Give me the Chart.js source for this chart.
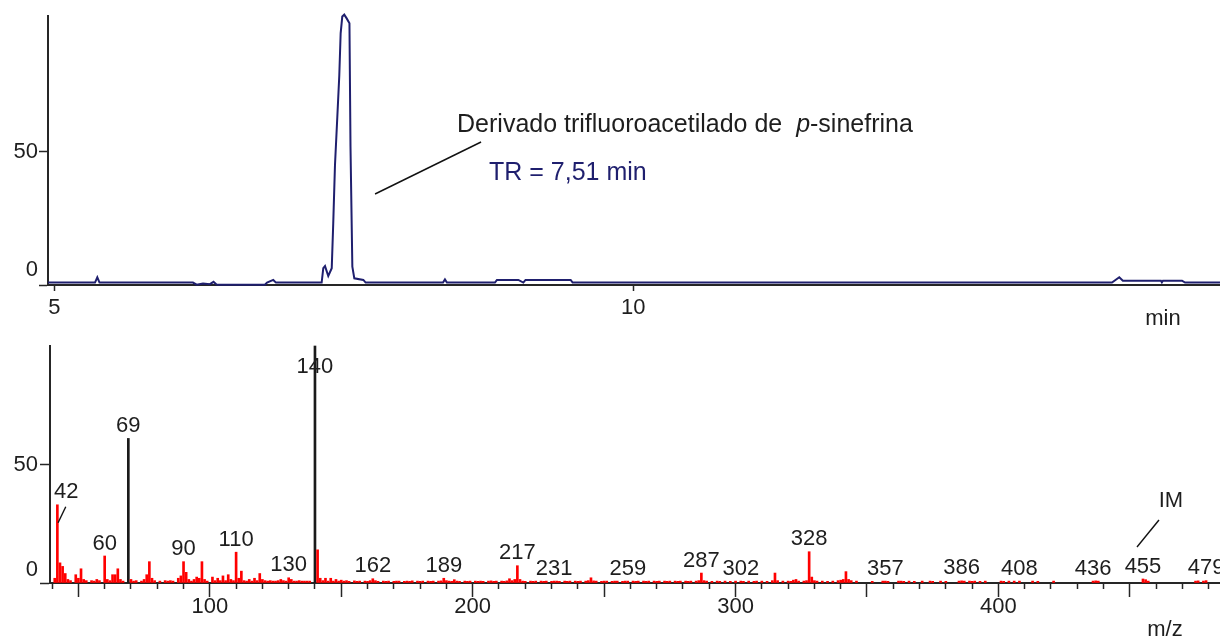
<!DOCTYPE html>
<html lang="es">
<head>
<meta charset="UTF-8">
<title>Cromatograma y espectro de masas - p-sinefrina</title>
<script src="https://cdn.jsdelivr.net/npm/chart.js@4.4.0/dist/chart.umd.min.js"></script>
<style>
  body { margin: 0; background: #fff; }
  #wrap { position: relative; width: 1220px; height: 641px; overflow: hidden; }
  canvas { position: absolute; left: 0; }
  #chromChart { top: 0; }
  #specChart { top: 330px; }
</style>
</head>
<body>
<div id="wrap">
  <canvas id="chromChart" width="1220" height="330"></canvas>
  <canvas id="specChart" width="1220" height="311"></canvas>
</div>
<script>
// chromatogram: time (min) and relative signal (%)
const chromTime = [4.944, 5.350, 5.370, 5.389, 6.196, 6.228, 6.283, 6.343, 6.374, 6.399, 6.421,
  6.818, 6.836, 6.890, 6.913, 7.308, 7.322, 7.337, 7.365, 7.395, 7.408, 7.423, 7.443, 7.460,
  7.472, 7.486, 7.503, 7.524, 7.548, 7.557, 7.573, 7.590, 7.668, 7.688, 8.356, 8.373, 8.390,
  8.805, 8.822, 9.007, 9.050, 9.069, 9.459, 9.476, 14.135, 14.198, 14.229, 14.558, 14.566,
  14.575, 14.740, 14.766, 15.068];
const chromSignal = [0.9, 0.9, 2.9, 0.9, 0.9, 0.1, 0.6, 0.3, 1.2, 0.2, 0.1,
  0.1, 0.9, 1.9, 0.9, 0.9, 6.3, 7.1, 3.4, 6.3, 23.2, 45, 63, 78.5,
  94.5, 100.8, 101.5, 100.1, 98.3, 52, 6.9, 2.5, 1.9, 0.9, 0.9, 2.1, 0.9,
  0.9, 1.9, 1.9, 0.9, 1.9, 1.9, 0.9, 0.9, 2.9, 1.6, 1.6, 1.0,
  1.6, 1.6, 0.9, 0.9];
const chromTicks = [5, 10];
const intensityTicks = [0, 50];
const retentionTime = 7.51;

// mass spectrum: [m/z, relative intensity]
const lowMassPeaks = [[41,2],[42,33],[43,8.5],[44,7],[45,4],[46,1.5],[47,1],[49,3.5],[50,2],[51,6],
  [52,1.5],[53,1],[55,1],[56,0.8],[57,1.5],[58,1],[60,11.4],[61,1.5],[62,1],[63,3.5],[64,3.5],
  [65,6],[66,1.5],[67,0.8],[69,61],[70,1.5],[71,0.8],[72,1],[74,0.8],[75,1.5],[76,3.5],[77,9],
  [78,2],[79,1],[81,0.8],[83,1],[84,0.8],[85,1],[86,0.8],[88,2],[89,3],[90,9],[91,4.5],[92,1.5],
  [93,0.8],[94,1.5],[95,2.5],[96,2],[97,9],[98,1.5],[99,0.8],[101,2.5],[102,1],[103,2],[104,1],
  [105,3],[106,1],[107,3.5],[108,1.5],[109,1],[110,13],[111,2],[112,5],[113,1],[114,0.8],
  [115,1.5],[116,0.8],[117,2],[118,1],[119,4],[120,1.5],[121,1],[122,0.8],[123,1],[124,0.8],
  [125,0.8],[126,1],[127,1.5],[128,1],[129,0.8],[130,2.2],[131,1.5],[132,0.8],[133,0.8],[134,1],
  [135,0.8],[136,0.8],[137,0.8],[138,0.8],[140,100],[141,14],[142,2],[143,1],[144,2],[145,0.8],
  [146,2],[147,0.8],[148,1.5],[149,0.8]];
const midMassPeaks = [[150,1.2],[151,0.8],[152,1],[153,0.7],[155,0.9],[156,0.7],[157,0.8],[159,0.8],
  [160,0.7],[161,1],[162,1.8],[163,1],[164,0.7],[166,0.8],[167,0.7],[168,0.8],[170,0.7],[171,0.8],
  [172,0.8],[174,0.7],[175,0.8],[176,0.7],[177,0.9],[179,0.8],[180,0.7],[181,0.8],[183,0.8],
  [184,0.7],[185,0.8],[187,0.8],[188,0.9],[189,2],[190,1],[191,0.8],[192,0.7],[193,1.4],[194,0.8],
  [195,0.7],[197,0.8],[198,0.7],[199,0.8],[201,0.8],[202,0.7],[203,0.8],[204,0.7],[206,0.8],
  [207,0.9],[208,0.7],[209,0.8],[211,0.8],[212,0.7],[213,0.9],[214,1.8],[215,1],[216,1.5],
  [217,7.3],[218,1.5],[219,0.8],[220,0.7],[222,0.8],[223,0.7],[224,0.8],[226,0.8],[227,0.7],
  [228,0.8],[230,0.7],[231,0.8],[232,0.8],[233,0.7],[235,0.8],[236,0.7],[237,0.8],[239,0.8],
  [240,0.7],[241,0.8],[243,0.8],[244,1],[245,2.2],[246,0.9],[247,0.8],[249,0.7],[250,0.8],
  [251,0.8],[253,0.7],[254,0.8],[255,0.8],[257,0.7],[258,0.8],[259,0.8],[261,0.8],[262,0.7],
  [263,0.8],[265,0.8],[266,0.7],[267,0.8],[269,0.8],[270,0.7],[271,0.8],[273,0.8],[274,0.7],
  [275,0.8],[277,0.8],[278,0.7],[279,0.8],[281,0.8],[282,0.7],[283,0.8],[285,0.8],[286,1],
  [287,4.2],[288,1],[289,0.8],[291,0.7],[293,0.8],[294,0.7],[296,0.8],[298,0.7],[300,0.8],
  [302,0.8],[303,0.7],[305,0.8],[307,0.7],[308,0.8],[310,0.8],[312,0.7],[314,1],[315,4.2],
  [316,1],[318,0.8],[320,0.8],[321,0.7],[322,1.2],[323,1.5],[324,0.8],[326,0.8],[327,1],
  [328,13.2],[329,2.5],[330,1],[331,0.8],[333,0.8],[335,0.7],[337,0.8],[339,1],[340,1.2],
  [341,1.5],[342,4.8],[343,1.5],[344,1]];
const highMassPeaks = [[346,0.8],[352,0.7],[356,0.8],[357,0.8],[358,0.7],[362,0.8],[363,0.8],
  [364,0.7],[366,0.8],[368,0.7],[371,0.8],[374,0.8],[375,0.7],[378,0.8],[380,0.7],[385,0.8],
  [386,0.9],[387,0.8],[389,0.8],[390,0.7],[391,0.8],[393,0.7],[395,0.8],[401,0.8],[402,0.7],
  [404,0.8],[406,0.8],[408,0.8],[413,0.8],[415,0.7],[421,0.8],[436,0.8],[437,0.9],[438,0.8],
  [455,1.7],[456,1.4],[457,0.8],[475,0.8],[476,0.9],[478,0.8],[479,1]];
const blackPeaks = [69, 140];
const labelledMz = [42, 60, 69, 90, 110, 130, 140, 162, 189, 217, 231, 259, 287, 302, 328,
  357, 386, 408, 436, 455, 479];
const mzTicks = [100, 200, 300, 400];
const molecularIon = 455;

const spectrum = lowMassPeaks.concat(midMassPeaks, highMassPeaks);

const FONT = '"Liberation Sans", Arial, sans-serif';
const AXIS = '#262626';
const NAVY = '#1f1f6e';
const TEXT = '#1e1e1e';

function drawLabel(ctx, text, x, y, size, align, color) {
  ctx.save();
  ctx.font = size + 'px ' + FONT;
  ctx.fillStyle = color || TEXT;
  ctx.textAlign = align || 'center';
  ctx.textBaseline = 'middle';
  ctx.fillText(text, x, y);
  ctx.restore();
}

function drawSegment(ctx, x1, y1, x2, y2) {
  ctx.save();
  ctx.strokeStyle = '#111';
  ctx.lineWidth = 1.4;
  ctx.beginPath();
  ctx.moveTo(x1, y1);
  ctx.lineTo(x2, y2);
  ctx.stroke();
  ctx.restore();
}

const chromLabels = {
  id: 'chromLabels',
  afterDraw(chart) {
    const { ctx, chartArea } = chart;
    const x = chart.scales.x, y = chart.scales.y;
    drawLabel(ctx, '50', 38, y.getPixelForValue(50), 22, 'right');
    drawLabel(ctx, '0', 38, y.getPixelForValue(0) - 15, 22, 'right');
    chromTicks.forEach(v => drawLabel(ctx, String(v), x.getPixelForValue(v), chartArea.bottom + 23, 22));
    drawLabel(ctx, 'min', 1163, chartArea.bottom + 34, 22);

    // annotation for the main peak
    const px = x.getPixelForValue(retentionTime);
    drawSegment(ctx, px + 30, 194, px + 136, 142);
    ctx.save();
    ctx.fillStyle = TEXT;
    ctx.textBaseline = 'alphabetic';
    ctx.textAlign = 'left';
    let tx = px + 112;
    const part1 = 'Derivado trifluoroacetilado de  ';
    ctx.font = '25px ' + FONT;
    ctx.fillText(part1, tx, 132);
    tx += ctx.measureText(part1).width;
    ctx.font = 'italic 25px ' + FONT;
    ctx.fillText('p', tx, 132);
    tx += ctx.measureText('p').width;
    ctx.font = '25px ' + FONT;
    ctx.fillText('-sinefrina', tx, 132);
    ctx.fillStyle = NAVY;
    ctx.fillText('TR = 7,51 min', px + 144, 180);
    ctx.restore();
  }
};

const specLabels = {
  id: 'specLabels',
  afterDraw(chart) {
    const { ctx, chartArea } = chart;
    const x = chart.scales.x, y = chart.scales.y;
    drawLabel(ctx, '50', 38, y.getPixelForValue(50), 22, 'right');
    drawLabel(ctx, '0', 38, y.getPixelForValue(0) - 13.5, 22, 'right');
    mzTicks.forEach(v => drawLabel(ctx, String(v), x.getPixelForValue(v), chartArea.bottom + 24, 22));
    drawLabel(ctx, 'm/z', 1165, chartArea.bottom + 47, 22);

    labelledMz.forEach(mz => {
      const peak = spectrum.find(p => p[0] === mz);
      const px = x.getPixelForValue(mz);
      const top = y.getPixelForValue(peak ? peak[1] : 0);
      let lx = px;
      const ly = Math.max(top - 12.5, chartArea.top + 21);
      if (mz === 42) {
        lx = px + 9;
        drawSegment(ctx, px + 0.7, top + 18, px + 8.4, top + 2);
      }
      drawLabel(ctx, String(mz), lx, ly, 22);
    });

    const ix = x.getPixelForValue(molecularIon);
    drawSegment(ctx, ix - 6, 217, ix + 16, 190);
    drawLabel(ctx, 'IM', ix + 28, 171, 22);
  }
};

new Chart(document.getElementById('chromChart'), {
  type: 'line',
  data: {
    datasets: [{
      data: chromTime.map((t, i) => ({ x: t, y: chromSignal[i] })),
      borderColor: NAVY,
      borderWidth: 2,
      pointRadius: 0,
      tension: 0,
      clip: false
    }]
  },
  options: {
    responsive: false,
    animation: false,
    devicePixelRatio: 1,
    layout: { padding: { top: 16, left: 0, right: 0, bottom: 0 } },
    plugins: { legend: { display: false }, tooltip: { enabled: false } },
    scales: {
      x: {
        type: 'linear', min: 4.944, max: 15.068, z: 1,
        afterBuildTicks: s => { s.ticks = chromTicks.map(v => ({ value: v })); },
        afterFit: s => { s.height = 45; },
        ticks: { display: false },
        grid: { drawOnChartArea: false, tickLength: 6, tickColor: AXIS, tickWidth: 1.5 },
        border: { color: AXIS, width: 2 }
      },
      y: {
        type: 'linear', min: 0, max: 101, z: 1,
        afterBuildTicks: s => { s.ticks = intensityTicks.map(v => ({ value: v })); },
        afterFit: s => { s.width = 48; },
        ticks: { display: false },
        grid: { drawOnChartArea: false, tickLength: 9, tickColor: AXIS, tickWidth: 1.5 },
        border: { color: AXIS, width: 2 }
      }
    }
  },
  plugins: [chromLabels]
});

new Chart(document.getElementById('specChart'), {
  type: 'bar',
  data: {
    datasets: [{
      data: spectrum.map(p => ({ x: p[0], y: p[1] })),
      backgroundColor: c => (c.raw && blackPeaks.includes(c.raw.x)) ? '#1a1a1a' : '#ff0000',
      barThickness: 2,
      grouped: false,
      borderWidth: 0,
      clip: false
    }]
  },
  options: {
    responsive: false,
    animation: false,
    devicePixelRatio: 1,
    layout: { padding: { top: 16, left: 0, right: 0, bottom: 0 } },
    plugins: { legend: { display: false }, tooltip: { enabled: false } },
    scales: {
      x: {
        type: 'linear', min: 39.2, max: 484.3, offset: false, z: 1,
        afterBuildTicks: s => {
          const t = [];
          for (let v = 40; v <= 480; v += 10) t.push({ value: v });
          s.ticks = t;
        },
        afterFit: s => { s.height = 58; },
        ticks: { display: false },
        grid: {
          offset: false, drawOnChartArea: false, tickLength: 14, tickColor: AXIS, tickWidth: 1.5,
          tickBorderDash: c => (c.tick && c.tick.value % 50 === 0) ? [] : [5, 30]
        },
        border: { color: AXIS, width: 2 }
      },
      y: {
        type: 'linear', min: 0, max: 100, z: 1,
        afterBuildTicks: s => { s.ticks = intensityTicks.map(v => ({ value: v })); },
        afterFit: s => { s.width = 50; },
        ticks: { display: false },
        grid: { drawOnChartArea: false, tickLength: 10, tickColor: AXIS, tickWidth: 1.5 },
        border: { color: AXIS, width: 2 }
      }
    }
  },
  plugins: [specLabels]
});
</script>
</body>
</html>
